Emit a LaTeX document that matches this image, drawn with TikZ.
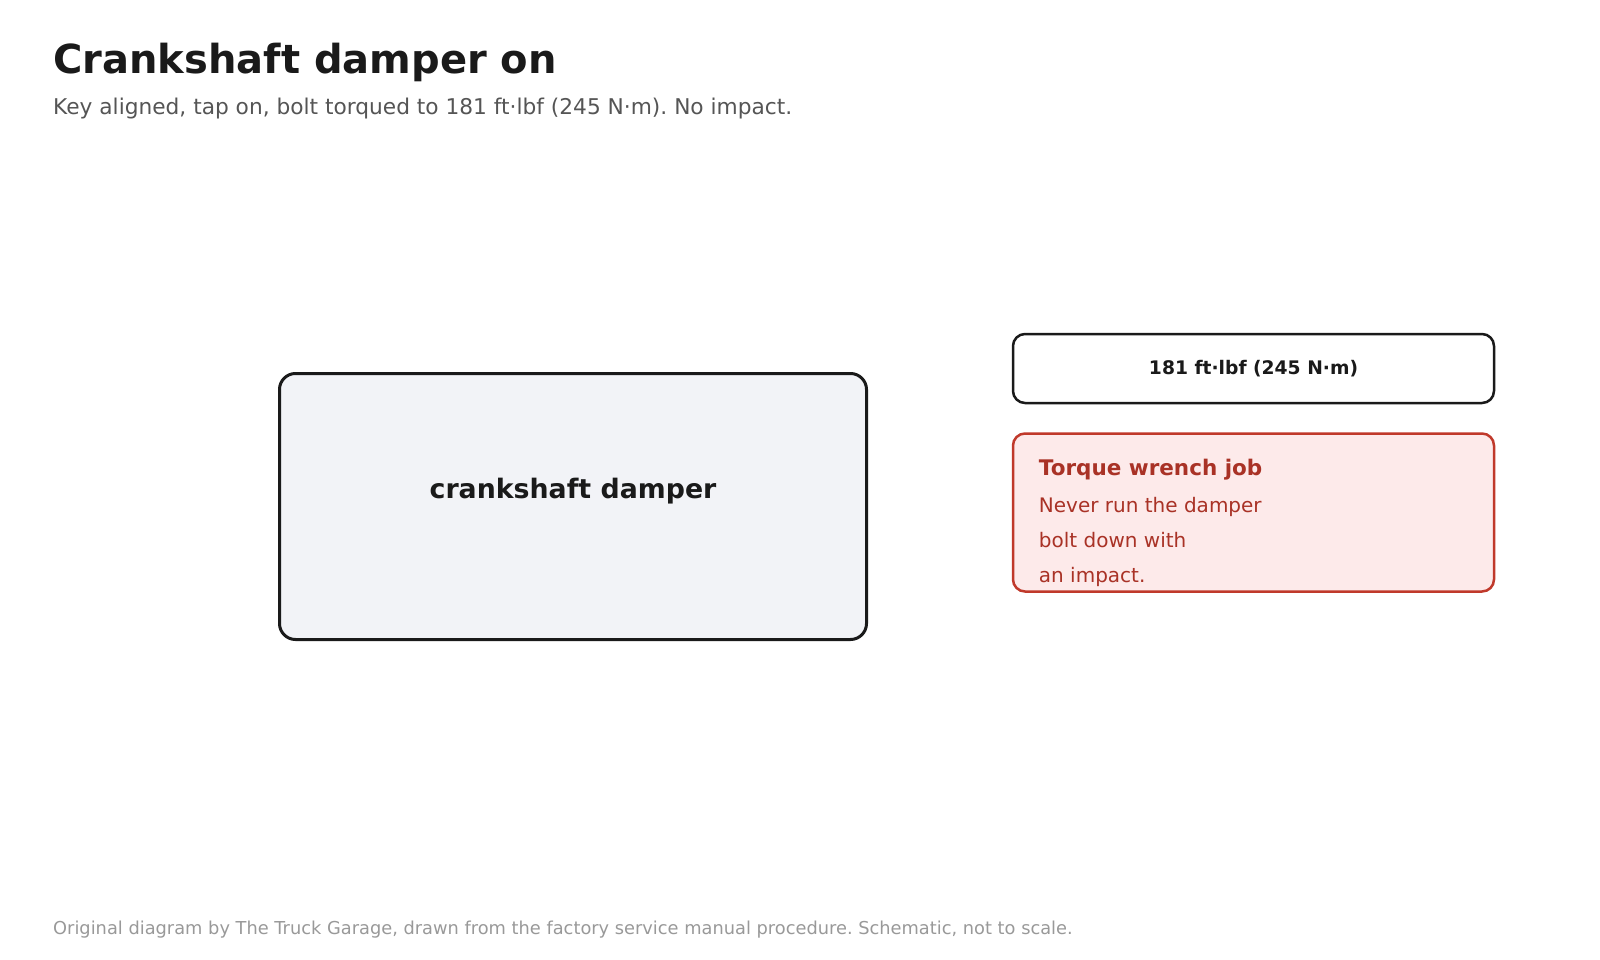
\documentclass[tikz,border=0pt]{standalone}
\usepackage{fontspec}
\setmainfont{DejaVu Sans}
\usetikzlibrary{positioning}
\definecolor{ink}{HTML}{1A1A1A}
\definecolor{subgrey}{HTML}{555555}
\definecolor{footgrey}{HTML}{999999}
\definecolor{partfill}{HTML}{F2F3F7}
\definecolor{warnline}{HTML}{C0392B}
\definecolor{warnfill}{HTML}{FDEAEA}
\definecolor{warntext}{HTML}{A93226}
\frenchspacing
\begin{document}
\begin{tikzpicture}[x=1pt,y=-1pt,
  partbox/.style={draw=ink, line width=3pt, fill=partfill, rounded corners=16pt,
    minimum width=587pt, minimum height=266pt, inner sep=0pt},
  specbox/.style={draw=ink, line width=2.5pt, fill=white, rounded corners=12pt,
    minimum width=481pt, minimum height=69pt, inner sep=0pt},
  warnbox/.style={draw=warnline, line width=2.5pt, fill=warnfill, rounded corners=12pt,
    minimum width=481pt, minimum height=158pt, inner sep=0pt}]
\def\x{53}
\useasboundingbox (0,0) rectangle (1600,960);
% heading
\node[anchor=base west, inner sep=0pt, text=ink, font=\bfseries\fontsize{40pt}{48pt}\selectfont] (title) at (\x, 74) {Crankshaft damper on};
\node[anchor=base west, inner sep=0pt, text=subgrey, font=\fontsize{21.7pt}{26pt}\selectfont] (subtitle) at (\x, 115) {Key aligned, tap on, bolt torqued to 181 ft·lbf (245 N·m). No impact.};
% part
\node[partbox] (damper) at (573, 506.5) {};
\node[text=ink, font=\bfseries\fontsize{26.8pt}{30pt}\selectfont] (dampertext) at ([yshift=15pt]damper.center) {crankshaft damper};
% torque spec and warning
\node[specbox, font=\bfseries\fontsize{18.7pt}{22pt}\selectfont, text=ink] (torque) at (1253.5, 368.5) {181 ft·lbf (245 N·m)};
\node[warnbox, below=28pt of torque] (warning) {};
\node[anchor=north west, align=left, inner sep=0pt, text=warntext, font=\fontsize{20pt}{35pt}\selectfont] (warningtext) at ([xshift=27pt, yshift=-27pt]warning.north west)
  {\textbf{\fontsize{21.5pt}{35pt}\selectfont Torque wrench job}\\[2pt]
   Never run the damper\\ bolt down with\\ an impact.};
% footer
\node[anchor=base west, inner sep=0pt, text=footgrey, font=\fontsize{17.8pt}{22pt}\selectfont] (footer) at (\x, 934) {Original diagram by The Truck Garage, drawn from the factory service manual procedure. Schematic, not to scale.};
\end{tikzpicture}
\end{document}
